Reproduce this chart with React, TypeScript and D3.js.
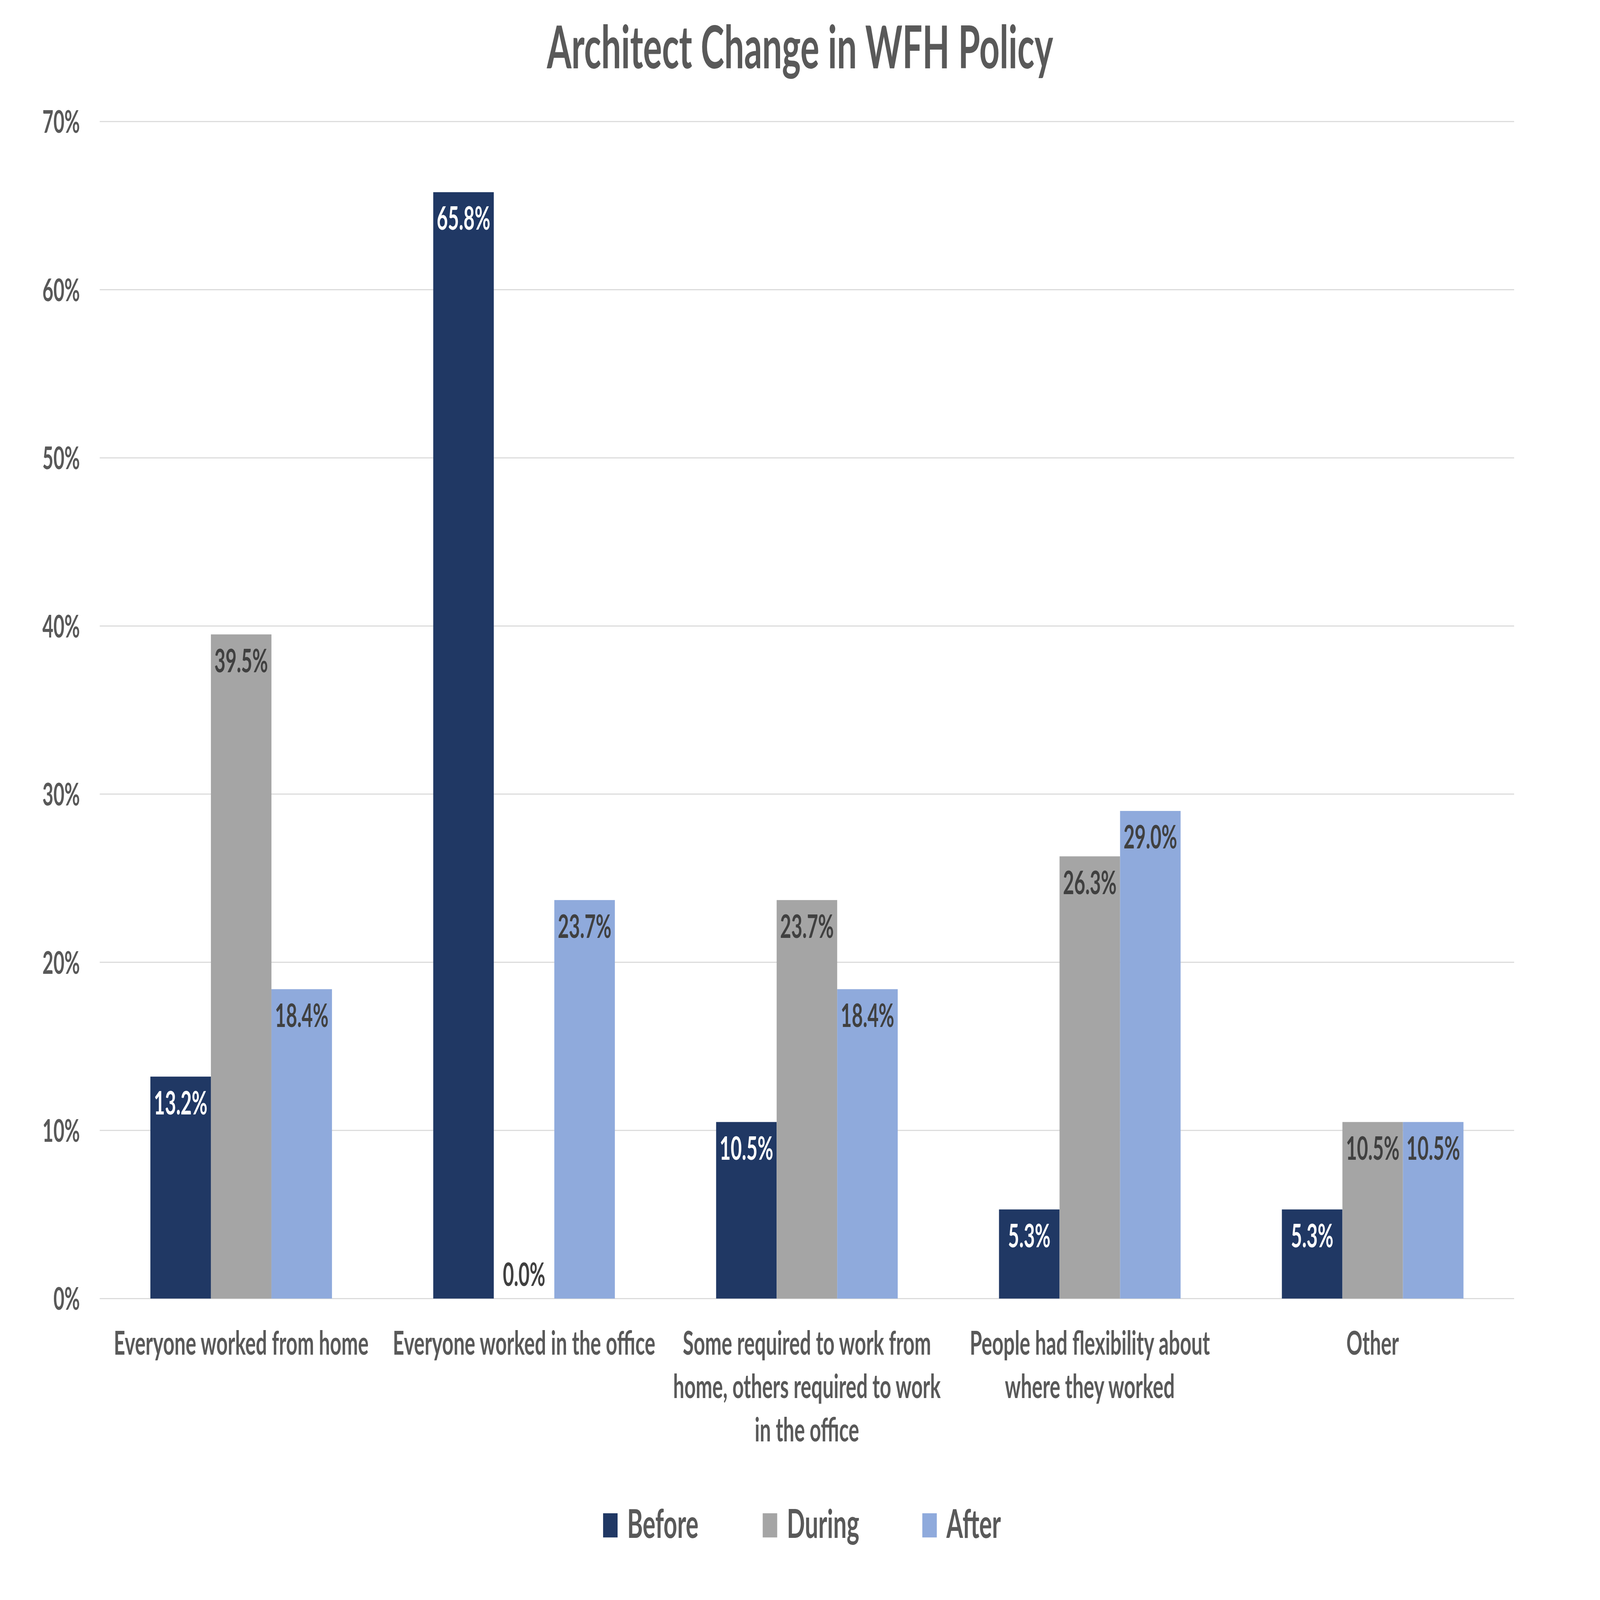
import React, { useEffect } from 'react';
import * as d3 from 'd3';

const categories = [
  'Everyone worked from home',
  'Everyone worked in the office',
  'Some required to work from home, others required to work in the office',
  'People had flexibility about where they worked',
  'Other',
];
// how Excel wrapped each category label
const categoryLines = [
  ['Everyone worked from home'],
  ['Everyone worked in the office'],
  ['Some required to work from', 'home, others required to work', 'in the office'],
  ['People had flexibility about', 'where they worked'],
  ['Other'],
];
const seriesNames = ['Before', 'During', 'After'];
const before = [13.2, 65.8, 10.5, 5.3, 5.3];
const during = [39.5, 0.0, 23.7, 26.3, 10.5];
const after = [18.4, 23.7, 18.4, 29.0, 10.5];
const yTicks = [0, 10, 20, 30, 40, 50, 60, 70];

const W = 7508;
const H = 4501;
const FONT = 'Lato, "Open Sans", sans-serif';
const colors = ['#203864', '#A5A5A5', '#8FAADC'];
const labelColors = ['#FFFFFF', '#404040', '#404040'];

export default function App() {
  useEffect(() => {
    document.body.style.margin = '0';
  }, []);

  const values = [before, during, after];

  const x0 = d3.scaleBand<string>()
    .domain(categories)
    .range([468, 7105])
    .paddingInner(0.358)
    .paddingOuter(0.179);
  const x1 = d3.scaleBand<string>()
    .domain(seriesNames)
    .range([0, x0.bandwidth()]);
  const y = d3.scaleLinear().domain([0, 70]).range([3653, 342]);

  const fmt = (v: number) => v.toFixed(1) + '%';

  // the window isn't always the chart's size, so stretch the viewBox over it
  return (
    <svg viewBox={`0 0 ${W} ${H}`} preserveAspectRatio="none"
      style={{ display: 'block', width: '100vw', height: '100vh', background: '#fff' }}>
      <text x={W / 2} y={192} textAnchor="middle" fontFamily={FONT} fontWeight="bold"
        fontSize={166} fill="#595959">Architect Change in WFH Policy</text>

      {/* gridlines + y labels */}
      {yTicks.map(t => (
        <g key={t}>
          <line x1={468} x2={7105} y1={y(t)} y2={y(t)} stroke="#D9D9D9" strokeWidth={3} />
          <text x={375} y={y(t) + 32} textAnchor="end" fontFamily={FONT} fontWeight="bold"
            fontSize={89} fill="#595959">{t}%</text>
        </g>
      ))}

      {/* bars */}
      {categories.map((c, ci) => (
        <g key={c} transform={`translate(${x0(c)},0)`}>
          {seriesNames.map((s, si) => {
            const v = values[si][ci];
            const top = y(v);
            const bx = x1(s)!;
            const bw = x1.bandwidth();
            const ly = v === 0 ? y(0) - 35 : top + 106;
            return (
              <g key={s}>
                <rect x={bx} y={top} width={bw} height={y(0) - top} fill={colors[si]} />
                <text x={bx + bw / 2} y={ly} textAnchor="middle" fontFamily={FONT}
                  fontWeight="bold" fontSize={90}
                  fill={v === 0 ? '#404040' : labelColors[si]}>{fmt(v)}</text>
              </g>
            );
          })}
        </g>
      ))}

      {/* category labels */}
      {categories.map((c, ci) => (
        <text key={c} x={x0(c)! + x0.bandwidth() / 2} y={3811} textAnchor="middle"
          fontFamily={FONT} fontWeight="bold" fontSize={93} fill="#595959">
          {categoryLines[ci].map((ln, li) => (
            <tspan key={li} x={x0(c)! + x0.bandwidth() / 2} y={3811 + li * 122}>{ln}</tspan>
          ))}
        </text>
      ))}

      {/* legend */}
      {seriesNames.map((s, si) => {
        const lx = 2830 + si * 749;
        return (
          <g key={s}>
            <rect x={lx} y={4257} width={68} height={68} fill={colors[si]} />
            <text x={lx + 113} y={4326} fontFamily={FONT} fontWeight="bold"
              fontSize={112} fill="#595959">{s}</text>
          </g>
        );
      })}
    </svg>
  );
}
